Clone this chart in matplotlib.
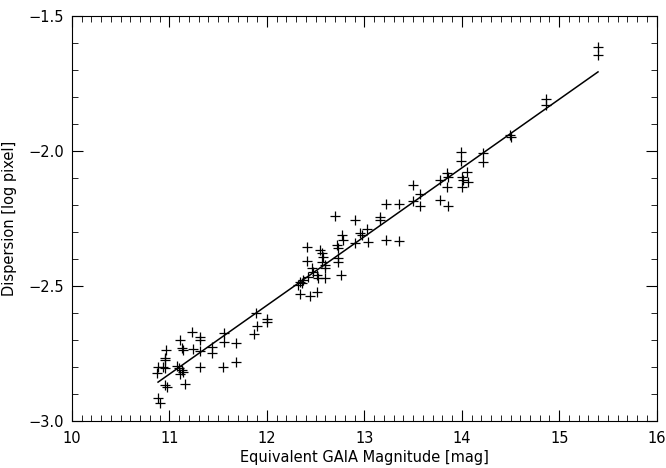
import matplotlib
matplotlib.use('Agg')
import matplotlib.pyplot as plt
from matplotlib.ticker import MultipleLocator

# measured points: GAIA magnitude vs log dispersion
mag = [10.886, 10.903, 10.869, 10.886, 10.937, 10.954, 10.954, 10.954, 10.965, 10.954,
       10.972, 11.074, 11.101, 11.126, 11.142, 11.108, 11.160, 11.108, 11.126, 11.136,
       11.228, 11.313, 11.313, 11.245, 11.313, 11.313, 11.434, 11.434, 11.560, 11.560,
       11.683, 11.683, 11.553, 11.885, 11.895, 11.871, 11.998, 11.998,
       12.340, 12.357, 12.374, 12.322, 12.340, 12.408, 12.408, 12.425, 12.460, 12.476,
       12.511, 12.527, 12.442, 12.511, 12.545, 12.562, 12.579, 12.562, 12.596, 12.596,
       12.596, 12.699, 12.716, 12.733, 12.733, 12.733, 12.760, 12.768, 12.778, 12.904,
       12.904, 12.960, 12.973, 13.027, 13.037, 13.161, 13.161, 13.222, 13.222, 13.359,
       13.359, 13.502, 13.502, 13.571, 13.571, 13.776, 13.776, 13.845, 13.862, 13.845,
       13.862, 13.992, 13.992, 13.999, 14.009, 13.999, 14.056, 14.067, 14.218, 14.218,
       14.495, 14.500, 14.864, 14.864, 15.401, 15.401]
disp = [-2.916, -2.932, -2.823, -2.799, -2.799, -2.805, -2.768, -2.774, -2.737, -2.867,
        -2.873, -2.795, -2.803, -2.811, -2.817, -2.827, -2.864, -2.700, -2.731, -2.737,
        -2.669, -2.688, -2.700, -2.733, -2.741, -2.799, -2.725, -2.748, -2.675, -2.706,
        -2.710, -2.780, -2.799, -2.599, -2.648, -2.679, -2.621, -2.632,
        -2.484, -2.490, -2.478, -2.496, -2.531, -2.354, -2.409, -2.466, -2.434, -2.447,
        -2.459, -2.471, -2.537, -2.523, -2.367, -2.379, -2.391, -2.410, -2.422, -2.434,
        -2.471, -2.241, -2.348, -2.360, -2.397, -2.410, -2.459, -2.311, -2.330, -2.257,
        -2.340, -2.302, -2.311, -2.289, -2.336, -2.243, -2.257, -2.196, -2.330, -2.196,
        -2.335, -2.126, -2.187, -2.159, -2.204, -2.109, -2.181, -2.083, -2.095, -2.132,
        -2.202, -2.003, -2.037, -2.095, -2.107, -2.132, -2.077, -2.114, -2.009, -2.041,
        -1.941, -1.948, -1.809, -1.828, -1.615, -1.643]

# linear fit end points
fit_x = [10.883, 15.398]
fit_y = [-2.856, -1.707]

plt.rcParams['font.family'] = 'DejaVu Sans'
plt.rcParams['axes.linewidth'] = 0.8

fig = plt.figure(figsize=(6.66, 4.68), dpi=100)
ax = fig.add_axes([0.1081, 0.1004, 0.8779, 0.8654])

ax.plot(mag, disp, linestyle='none', marker='+', color='black', markersize=7, markeredgewidth=0.9)
ax.plot(fit_x, fit_y, color='black', linewidth=1.1)

ax.set_xlim(10, 16)
ax.set_ylim(-3.0, -1.5)
ax.xaxis.set_major_locator(MultipleLocator(1))
ax.xaxis.set_minor_locator(MultipleLocator(0.1))
ax.yaxis.set_major_locator(MultipleLocator(0.5))
ax.yaxis.set_minor_locator(MultipleLocator(0.1))
ax.set_yticks([-3.0, -2.5, -2.0, -1.5])
ax.set_yticklabels(['\u22123.0', '\u22122.5', '\u22122.0', '\u22121.5'])

ax.tick_params(which='both', direction='in', top=True, right=True, colors='black', labelsize=10.5)
ax.tick_params(which='major', length=8, width=0.8)
ax.tick_params(which='minor', length=4, width=0.6)
ax.tick_params(axis='x', pad=7)
ax.tick_params(axis='y', pad=6)

ax.set_xlabel('Equivalent GAIA Magnitude [mag]', fontsize=10.5, labelpad=3)
ax.set_ylabel('Dispersion [log pixel]', fontsize=10.5, labelpad=8)

fig.savefig('out.png', dpi=100, facecolor='white')
